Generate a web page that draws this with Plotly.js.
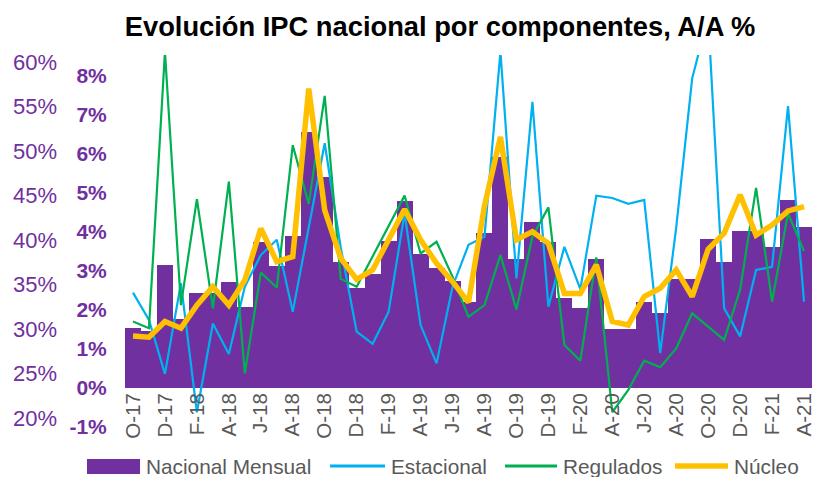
<!DOCTYPE html>
<html>
<head>
<meta charset="utf-8">
<script src="https://cdn.plot.ly/plotly-3.0.1.min.js"></script>
<style>html,body{margin:0;padding:0;background:#fff;}#chart{width:820px;height:477px;}</style>
</head>
<body>
<div id="chart"></div>
<script>
// Months Oct-2017 .. Apr-2021 (43 months)
const months = [
  "O-17","N-17","D-17","E-18","F-18","M-18","A-18","M-18","J-18","J-18","A-18","S-18",
  "O-18","N-18","D-18","E-19","F-19","M-19","A-19","M-19","J-19","J-19","A-19","S-19",
  "O-19","N-19","D-19","E-20","F-20","M-20","A-20","M-20","J-20","J-20","A-20","S-20",
  "O-20","N-20","D-20","E-21","F-21","M-21","A-21"
];
const monthIdx = months.map((m, i) => i);

// Tick labels (every two months)
const tickIdx = [0,2,4,6,8,10,12,14,16,18,20,22,24,26,28,30,32,34,36,38,40,42];
const tickLabels = ["O-17","D-17","F-18","A-18","J-18","A-18","O-18","D-18","F-19","A-19","J-19",
  "A-19","O-19","D-19","F-20","A-20","J-20","A-20","O-20","D-20","F-21","A-21"];

// Series names
const seriesNames = ["Nacional Mensual","Estacional","Regulados","Núcleo"];

// Series (% y/y)
const nacional = [1.53,1.45,3.15,1.76,2.42,2.42,2.72,2.08,3.74,3.12,3.90,6.56,
  5.40,3.21,2.57,2.92,3.77,4.79,3.44,3.06,2.74,2.21,3.96,5.92,
  3.30,4.25,3.73,2.29,2.04,3.30,1.50,1.50,2.21,1.91,2.80,2.80,
  3.80,3.21,4.02,4.02,3.61,4.81,4.11];
const estacional = [2.44,1.74,0.36,2.68,-0.62,1.65,0.87,2.59,3.40,3.79,1.95,4.09,
  6.26,3.60,1.44,1.13,1.95,4.47,1.61,0.63,2.59,3.66,3.87,8.6,
  2.80,7.32,2.08,3.61,2.53,4.92,4.86,4.71,4.81,0.89,4.10,7.92,
  9.5,2.04,1.32,3.02,3.10,7.21,2.21];
const regulados = [1.70,1.53,8.6,2.12,4.83,2.04,5.28,0.37,2.95,2.57,6.21,4.71,
  7.47,2.79,2.59,3.37,4.14,4.92,3.44,3.74,2.85,1.82,2.12,3.40,
  2.01,3.87,4.62,1.10,0.70,3.34,-0.62,-0.05,0.70,0.53,1.01,1.91,
  1.57,1.23,2.51,5.12,2.21,4.47,3.50];
const nucleo = [1.33,1.30,1.70,1.53,2.12,2.59,2.12,2.76,4.08,3.23,3.36,7.66,
  4.55,3.32,2.78,3.02,3.79,4.57,3.79,3.19,2.72,2.19,4.66,6.42,
  3.79,4.00,3.70,2.42,2.42,3.15,1.70,1.61,2.34,2.55,3.02,2.34,
  3.55,3.96,4.94,3.91,4.17,4.53,4.64];

// Axis tick labels
const innerTickVals = [-1,0,1,2,3,4,5,6,7,8];
const innerTickText = ["-1%","0%","1%","2%","3%","4%","5%","6%","7%","8%"];
const outerTickVals = [20,25,30,35,40,45,50,55,60];
const outerTickText = ["20%","25%","30%","35%","40%","45%","50%","55%","60%"];

const purple = "#7030A0";
const blue = "#00B0F0";
const green = "#00B050";
const yellow = "#FFC000";
const gray = "#595959";
const colors = [purple, blue, green, yellow];

const traces = [
  {type:"bar", name:seriesNames[0], x:monthIdx, y:nacional,
   marker:{color:purple, line:{width:0}}, hoverinfo:"y"},
  {type:"scatter", mode:"lines", name:seriesNames[1], x:monthIdx, y:estacional,
   line:{color:blue, width:2.2}},
  {type:"scatter", mode:"lines", name:seriesNames[2], x:monthIdx, y:regulados,
   line:{color:green, width:2.2}},
  {type:"scatter", mode:"lines", name:seriesNames[3], x:monthIdx, y:nucleo,
   line:{color:yellow, width:5.5}},
  {type:"scatter", mode:"lines", x:[null], y:[null], yaxis:"y2",
   showlegend:false, hoverinfo:"skip"}
];

const W = 820, H = 477;
const mL = 57, mR = 8, mT = 55, mB = 5;
const plotW = W - mL - mR;
const plotH = H - mT - mB;
const bottomPx = H - mB;
const xStart = (125 - mL) / plotW;
// inner axis: 0% at y=388, 39.1 px per 1%
const innerLo = (388 - bottomPx) / 39.1, innerHi = (388 - mT) / 39.1;
// outer axis: 20% at y=418, 8.9 px per 1%
const outerLo = 20 - (bottomPx - 418) / 8.9, outerHi = 20 + (418 - mT) / 8.9;

const px = v => (v - mL) / plotW;
const py = v => (bottomPx - v) / plotH;

// Legend drawn as key marks + text below the plot
const legSym = [[87,140],[330,385],[505,557],[675,728]];
const legY = 466;
const shapes = [];
const annotations = [];
legSym.forEach((s, i) => {
  if (i === 0) {
    shapes.push({type:"rect", xref:"paper", yref:"paper", x0:px(s[0]), x1:px(s[1]), y0:py(474), y1:py(459),
      fillcolor:colors[i], line:{width:0}});
  } else {
    shapes.push({type:"line", xref:"paper", yref:"paper", x0:px(s[0]), x1:px(s[1]), y0:py(legY), y1:py(legY),
      line:{color:colors[i], width: i === 3 ? 5.5 : 3}});
  }
  annotations.push({xref:"paper", yref:"paper", x:px(s[1] + 4), y:py(legY), xanchor:"left", yanchor:"middle",
    text:seriesNames[i], showarrow:false,
    font:{family:"Liberation Sans, Arial, sans-serif", size:20.8, color:gray}});
});

const layout = {
  width: W, height: H,
  margin: {l: mL, r: mR, t: mT, b: mB, pad: 0},
  paper_bgcolor: "#ffffff",
  plot_bgcolor: "rgba(0,0,0,0)",
  title: {text: "Evolución IPC nacional por componentes, A/A %",
    font: {family: "Liberation Sans, Arial, sans-serif", size: 27.3, color: "#000000", weight: 700},
    x: 440 / W, xanchor: "center", y: 1 - 26 / H, yanchor: "middle", xref: "container", yref: "container"},
  bargap: 0,
  showlegend: false,
  shapes: shapes,
  annotations: annotations,
  xaxis: {domain: [xStart, 1], range: [-0.5, 42.5], anchor: "free", position: (bottomPx - 388) / plotH,
    tickmode: "array", tickvals: tickIdx, ticktext: tickLabels, tickangle: -90,
    showgrid: false, zeroline: false, showline: false, ticks: "", automargin: false,
    tickfont: {family: "Liberation Sans, Arial, sans-serif", size: 20.5, color: gray}},
  yaxis: {range: [innerLo, innerHi], anchor: "x", side: "left",
    tickmode: "array", tickvals: innerTickVals, ticktext: innerTickText,
    showgrid: false, zeroline: false, showline: false, automargin: false,
    ticks: "outside", ticklen: 13, tickcolor: "rgba(0,0,0,0)",
    tickfont: {family: "Liberation Sans, Arial, sans-serif", size: 21, color: purple, weight: 700}},
  yaxis2: {range: [outerLo, outerHi], overlaying: "y", anchor: "free", position: 0, side: "left",
    tickmode: "array", tickvals: outerTickVals, ticktext: outerTickText, automargin: false,
    showgrid: false, zeroline: false, showline: false, ticks: "",
    tickfont: {family: "Liberation Sans, Arial, sans-serif", size: 22, color: purple}}
};

Plotly.newPlot("chart", traces, layout, {displayModeBar: false, staticPlot: true});
</script>
</body>
</html>
